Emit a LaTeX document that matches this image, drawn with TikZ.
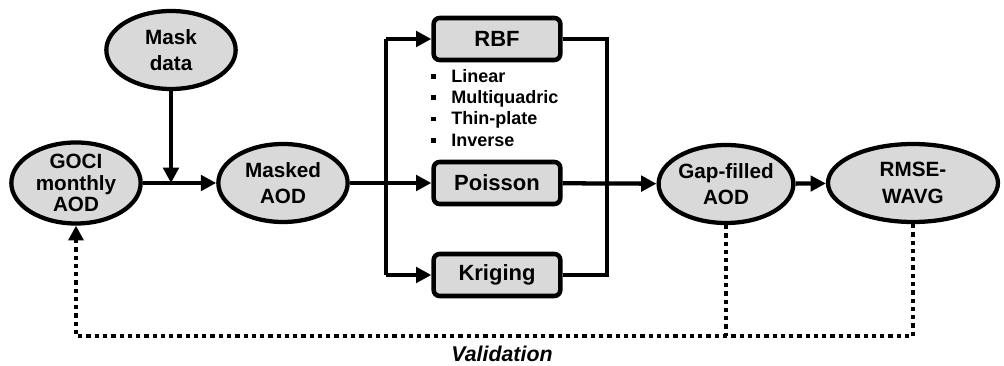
\documentclass[tikz,border=0pt]{standalone}
\usepackage{fontspec}
\setmainfont{Liberation Sans}
\usetikzlibrary{shapes.geometric,arrows.meta}
\definecolor{boxfill}{HTML}{D9D9D9}
\begin{document}
\begin{tikzpicture}[x=0.75pt,y=-0.75pt,
  every node/.style={font=\bfseries},
  oval/.style={ellipse,draw=black,line width=3.2pt,fill=boxfill,inner sep=0pt,
    minimum width=97pt,minimum height=58.5pt,align=center,
    font=\fontsize{15.5}{20}\selectfont\bfseries},
  methbox/.style={rectangle,rounded corners=4.5pt,draw=black,line width=3.4pt,fill=boxfill,
    minimum width=95pt,minimum height=31.5pt,inner sep=0pt,
    font=\fontsize{16.5}{19}\selectfont\bfseries},
  arr/.style={line width=3.2pt,-{Triangle[length=11.5pt,width=11.5pt]}},
  ln/.style={line width=3.2pt},
  dots/.style={line width=3.2pt,dash pattern=on 3.2pt off 3pt},
  dotarr/.style={dots,-{Triangle[length=11pt,width=11pt]}}
]
\useasboundingbox (0,0) rectangle (1004,366);
\node[oval] (mask) at (171,50) {Mask\\data};
\node[oval,font=\fontsize{15.5}{16}\selectfont\bfseries] (goci) at (76,183) {GOCI\\monthly\\AOD};
\node[oval] (masked) at (283,183) {Masked\\AOD};
\node[methbox] (rbf) at (497,39) {RBF};
\node[methbox] (poisson) at (497,183) {Poisson};
\node[methbox] (kriging) at (497,275) {Kriging};
\node[anchor=north west,inner sep=0pt,font=\fontsize{13.5}{16}\selectfont\bfseries] (list) at (431,67)
  {\begin{tabular}{@{}l@{\hspace{11.5pt}}l@{}}
   \rule[0.2em]{3.5pt}{3.5pt} & Linear\\
   \rule[0.2em]{3.5pt}{3.5pt} & Multiquadric\\
   \rule[0.2em]{3.5pt}{3.5pt} & Thin-plate\\
   \rule[0.2em]{3.5pt}{3.5pt} & Inverse
   \end{tabular}};
\node[oval] (gap) at (726,184) {Gap-filled\\AOD};
\node[oval,minimum width=127.5pt] (rmse) at (913,183) {RMSE-\\WAVG};
\node[anchor=base,inner sep=0pt,font=\fontsize{16}{18}\selectfont\bfseries\itshape] (val) at (502,362) {Validation};
\coordinate (bl) at (386,0);
\coordinate (br) at (607,0);
\coordinate (vb) at (0,336);
% flow
\draw[arr] (goci) -- (masked);
\draw[arr] (mask) -- (mask |- goci);
\draw[arr] (masked) -- (poisson);
\draw[ln,line cap=butt] (bl |- rbf) -- (bl |- kriging);
\draw[arr] (bl |- rbf) -- (rbf);
\draw[arr] (bl |- kriging) -- (kriging);
\draw[ln,line join=miter] (rbf.east) -- (br |- rbf) -- (br |- kriging) -- (kriging.east);
\draw[arr] (poisson) -- (gap);
\draw[arr] (gap) -- (rmse);
% validation loop
\draw[dotarr] (rmse.south) -- (rmse.south |- vb) -- (goci.south |- vb) -- (goci.south);
\draw[dots] (gap.south) -- (gap.south |- vb);
\end{tikzpicture}
\end{document}
